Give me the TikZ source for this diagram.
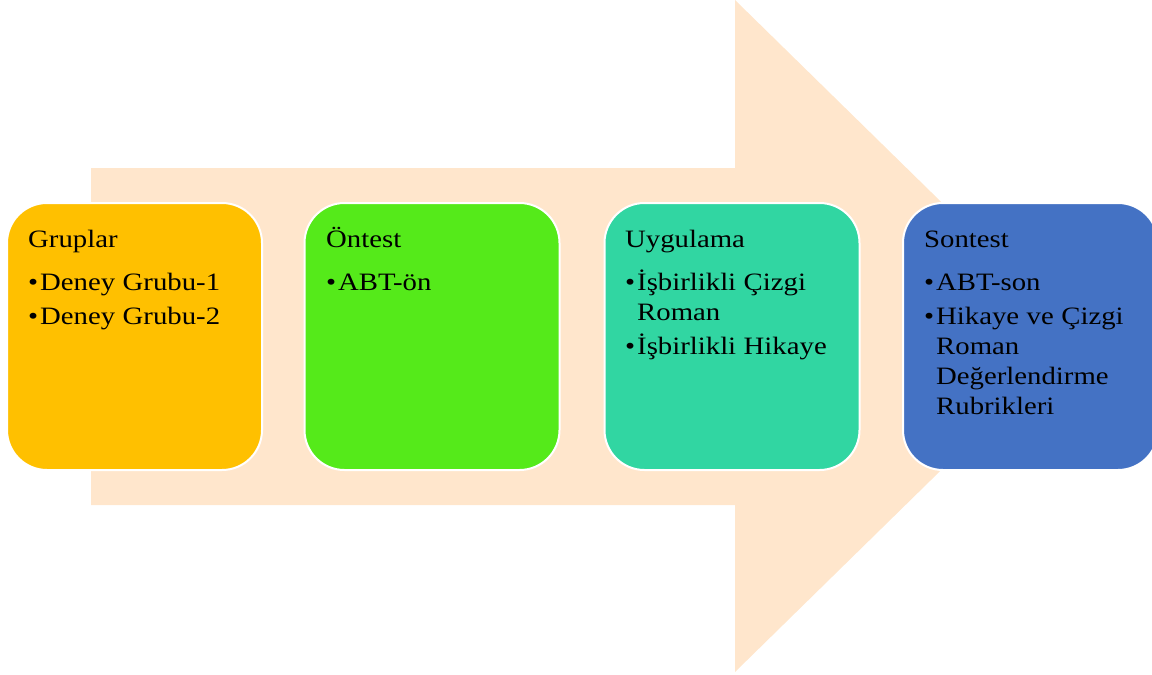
\documentclass[tikz,border=0pt]{standalone}
\usepackage{fontspec}
\setmainfont{Liberation Serif}[FakeStretch=1.15]
\definecolor{arrowc}{HTML}{FFE6CC}
\definecolor{cgold}{HTML}{FFC000}
\definecolor{cgreen}{HTML}{55EA1A}
\definecolor{cteal}{HTML}{31D6A2}
\definecolor{cblue}{HTML}{4472C4}
\newcommand\cardsetup{\fontsize{25pt}{30pt}\selectfont\raggedright\setlength{\parindent}{0pt}\setlength{\parskip}{4pt}\spaceskip=0.3em plus 0.1em}
\newcommand\bi[1]{\hangindent=12pt\hangafter=1\noindent\makebox[12pt][l]{\textbullet}#1\par}
\newcommand\ttl[1]{\noindent\rule{0pt}{24pt}#1\par\vspace{9pt}}
\tikzset{
  card/.style={rectangle, rounded corners=40pt, draw=white, line width=2pt,
    minimum width=255pt, minimum height=267pt, inner sep=0pt},
  cardtext/.style={anchor=north west, inner sep=0pt, text width=225pt}
}
\begin{document}
\begin{tikzpicture}[x=1pt,y=-1pt]
\useasboundingbox (0,0) rectangle (1152,675);
\fill[arrowc] (91,168) -- (735,168) -- (735,0) -- (1078,336) -- (735,672) -- (735,505) -- (91,505) -- cycle;
\node[card, fill=cgold] (g) at (134.5,336.5) {};
\node[card, fill=cgreen] (o) at (432,336.5) {};
\node[card, fill=cteal] (u) at (732,336.5) {};
\node[card, fill=cblue] (s) at (1030.5,336.5) {};
\node[cardtext] (gt) at (28,223) {\cardsetup\ttl{Gruplar}\bi{Deney Grubu-1}\bi{Deney Grubu-2}};
\node[cardtext] (ot) at (326,223) {\cardsetup\ttl{Öntest}\bi{ABT-ön}};
\node[cardtext] (ut) at (625,223) {\cardsetup\ttl{Uygulama}\bi{İşbirlikli Çizgi Roman}\bi{İşbirlikli Hikaye}};
\node[cardtext] (st) at (924,223) {\cardsetup\ttl{Sontest}\bi{ABT-son}\bi{Hikaye ve Çizgi Roman Değerlendirme Rubrikleri}};
\end{tikzpicture}
\end{document}
